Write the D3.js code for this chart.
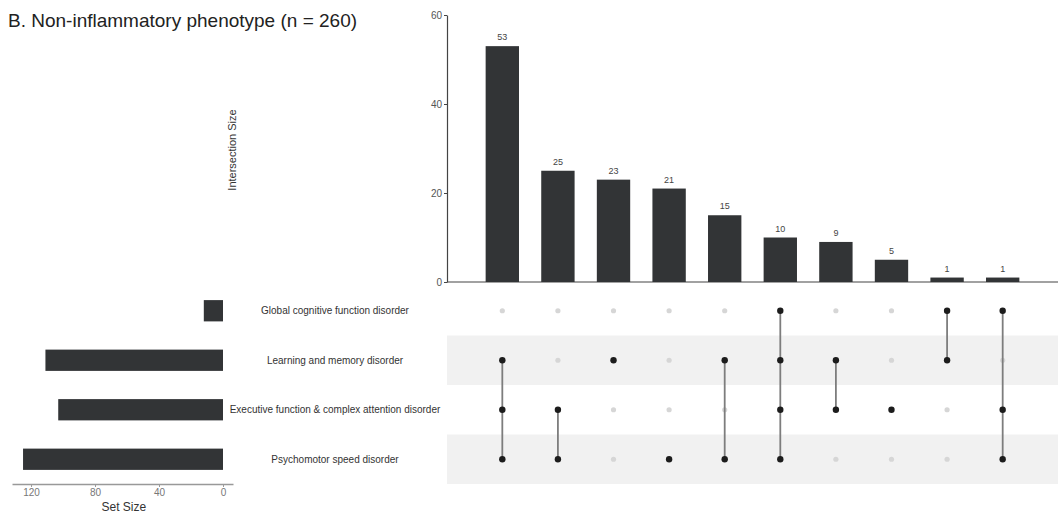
<!DOCTYPE html>
<html>
<head>
<meta charset="utf-8">
<script src="https://cdn.jsdelivr.net/npm/d3@7"></script>
<style>
  html, body { margin: 0; padding: 0; background: #ffffff; }
  svg { display: block; font-family: "Liberation Sans", Arial, sans-serif; }
</style>
</head>
<body>
<svg id="chart" width="1063" height="514"></svg>
<script>
// Sets shown as matrix rows (top to bottom)
const setNames = [
  "Global cognitive function disorder",
  "Learning and memory disorder",
  "Executive function & complex attention disorder",
  "Psychomotor speed disorder"
];
const setSizes = [12, 111, 103, 125];

// Intersections, ordered by size; members are row indices into setNames
const intersectionSizes = [53, 25, 23, 21, 15, 10, 9, 5, 1, 1];
const intersectionMembers = [
  [1, 2, 3], [2, 3], [1], [3], [1, 3],
  [0, 1, 2, 3], [1, 2], [2], [0, 1], [0, 2, 3]
];

const sizeTicks = [0, 20, 40, 60];
const setTicks = [0, 40, 80, 120];

const svg = d3.select("#chart");
const barColor = "#323436";

// Title
svg.append("text")
  .attr("x", 8).attr("y", 27)
  .attr("font-size", 19).attr("fill", "#222")
  .text("B. Non-inflammatory phenotype (n = 260)");

// ---------- Intersection size bar chart ----------
const cols = d3.range(intersectionSizes.length);
const x = d3.scaleBand().domain(cols).range([447, 1058])
  .paddingInner(0.4).paddingOuter(0.695);
const y = d3.scaleLinear().domain([0, 60]).range([282, 15]);

const yAxis = svg.append("g")
  .attr("transform", "translate(447,0)")
  .call(d3.axisLeft(y).tickValues(sizeTicks).tickSize(3).tickSizeOuter(0).tickPadding(2));
yAxis.select(".domain").attr("stroke", "#444").attr("stroke-width", 1.2);
yAxis.selectAll(".tick line").attr("stroke", "#444");
yAxis.selectAll(".tick text").attr("fill", "#555").attr("font-size", 10)
  .attr("font-family", "Liberation Sans, Arial, sans-serif");

svg.append("line")
  .attr("x1", 447).attr("x2", 1058)
  .attr("y1", y(0)).attr("y2", y(0))
  .attr("stroke", "#444").attr("stroke-width", 1.2);

svg.append("g").selectAll("rect")
  .data(intersectionSizes)
  .join("rect")
  .attr("x", (d, i) => x(i))
  .attr("width", x.bandwidth())
  .attr("y", d => y(d))
  .attr("height", d => y(0) - y(d))
  .attr("fill", barColor);

svg.append("g").selectAll("text")
  .data(intersectionSizes)
  .join("text")
  .attr("x", (d, i) => x(i) + x.bandwidth() / 2)
  .attr("y", d => y(d) - 6)
  .attr("text-anchor", "middle")
  .attr("font-size", 9).attr("fill", "#444")
  .text(d => d);

svg.append("text")
  .attr("transform", "translate(236,150) rotate(-90)")
  .attr("text-anchor", "middle")
  .attr("font-size", 11).attr("fill", "#333")
  .text("Intersection Size");

// ---------- Matrix ----------
const rowIdx = d3.range(setNames.length);
const row = d3.scaleBand().domain(rowIdx).range([286, 484]);
const rowMid = i => row(i) + row.bandwidth() / 2;

// Shaded alternate rows
svg.append("g").selectAll("rect")
  .data(rowIdx.filter(i => i % 2 === 1))
  .join("rect")
  .attr("x", 447).attr("width", 1058 - 447)
  .attr("y", i => row(i)).attr("height", row.bandwidth())
  .attr("fill", "#f1f1f1");

// Empty dots
const cells = [];
cols.forEach(c => rowIdx.forEach(r => cells.push({ c, r, on: intersectionMembers[c].includes(r) })));
svg.append("g").selectAll("circle")
  .data(cells.filter(d => !d.on))
  .join("circle")
  .attr("cx", d => x(d.c) + x.bandwidth() / 2)
  .attr("cy", d => rowMid(d.r))
  .attr("r", 2.6)
  .attr("fill", "#d6d6d6");

// Connecting lines
svg.append("g").selectAll("line")
  .data(cols.filter(c => intersectionMembers[c].length > 1))
  .join("line")
  .attr("x1", c => x(c) + x.bandwidth() / 2)
  .attr("x2", c => x(c) + x.bandwidth() / 2)
  .attr("y1", c => rowMid(d3.min(intersectionMembers[c])))
  .attr("y2", c => rowMid(d3.max(intersectionMembers[c])))
  .attr("stroke", "#7d7d7d").attr("stroke-width", 1.8);

// Filled dots
svg.append("g").selectAll("circle")
  .data(cells.filter(d => d.on))
  .join("circle")
  .attr("cx", d => x(d.c) + x.bandwidth() / 2)
  .attr("cy", d => rowMid(d.r))
  .attr("r", 3.2)
  .attr("fill", "#1c1c1c");

// Set names
svg.append("g").selectAll("text")
  .data(setNames)
  .join("text")
  .attr("x", 335)
  .attr("y", (d, i) => rowMid(i) + 3.5)
  .attr("text-anchor", "middle")
  .attr("font-size", 10).attr("fill", "#333")
  .text(d => d);

// ---------- Set size bars ----------
const xs = d3.scaleLinear().domain([-6.25, 131.9]).range([233, 12]);
const setBarH = row.bandwidth() * 0.43;

svg.append("g").selectAll("rect")
  .data(setSizes)
  .join("rect")
  .attr("x", d => xs(d))
  .attr("width", d => xs(0) - xs(d))
  .attr("y", (d, i) => rowMid(i) - setBarH / 2)
  .attr("height", setBarH)
  .attr("fill", barColor);

const sAxis = svg.append("g")
  .attr("transform", "translate(0,484)")
  .call(d3.axisBottom(xs).tickValues(setTicks).tickSize(3).tickSizeOuter(0).tickPadding(2));
sAxis.select(".domain").attr("stroke", "#999").attr("stroke-width", 1.5);
sAxis.selectAll(".tick line").attr("stroke", "#999");
sAxis.selectAll(".tick text").attr("fill", "#777").attr("font-size", 10)
  .attr("font-family", "Liberation Sans, Arial, sans-serif");

svg.append("text")
  .attr("x", xs(62)).attr("y", 511)
  .attr("text-anchor", "middle")
  .attr("font-size", 12).attr("fill", "#333")
  .text("Set Size");
</script>
</body>
</html>
